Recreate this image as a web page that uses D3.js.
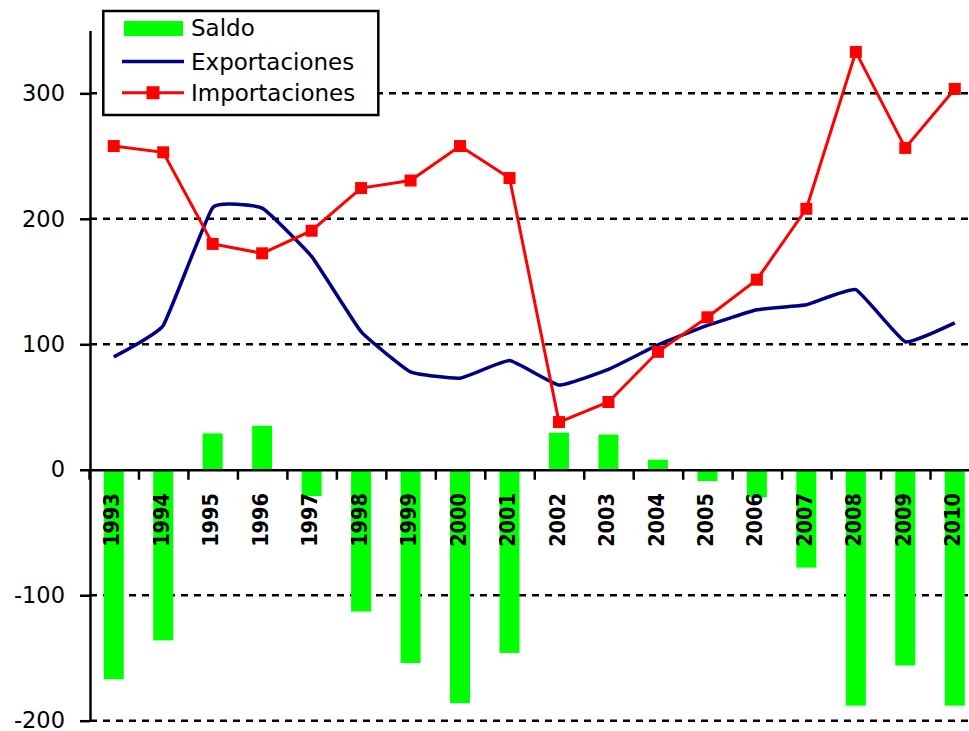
<!DOCTYPE html>
<html>
<head>
<meta charset="utf-8">
<script src="https://cdn.jsdelivr.net/npm/d3@7"></script>
<style>
  body { margin: 0; background: #fff; }
  svg { display: block; }
  text { font-family: "DejaVu Sans", Verdana, sans-serif; fill: #000; }
</style>
</head>
<body>
<svg id="chart" width="969" height="731"></svg>
<script>
// Data
const years = ["1993","1994","1995","1996","1997","1998","1999","2000","2001",
               "2002","2003","2004","2005","2006","2007","2008","2009","2010"];
const saldo = [-167, -136, 29, 35, -21, -113, -154, -186, -146,
               29.5, 28, 8, -9, -22, -78, -188, -156, -188];
const exportaciones = [90, 115, 209, 208.5, 170, 110, 78, 73, 87,
                       67.5, 80, 99.5, 115, 127.5, 131.5, 143.5, 102, 117];
const importaciones = [258, 253, 180, 172.5, 190.5, 224.5, 230.5, 258, 232.5,
                       38, 54, 94, 121.5, 151.5, 208, 333, 256.5, 303.5];
const yTicks = [-200, -100, 0, 100, 200, 300];
const legendItems = ["Saldo", "Exportaciones", "Importaciones"];

const COLORS = {
    saldo: "#00ff00",
    exp: "#000080",
    imp: "#ff0000"
};

const W = 969, H = 731;
const svg = d3.select("#chart");

// plot runs past the right edge of the window, like the reference
const x = d3.scaleBand().domain(years).range([89, 979.5]).padding(0);
const xb = d3.scaleLinear().domain([0, years.length]).range([89, 979.5]);
const y = d3.scaleLinear().domain([-200, 350]).range([720.7, 30.6]);

// grid lines
svg.append("g").selectAll("line")
    .data(yTicks.filter(t => t !== 0))
    .enter().append("line")
    .attr("x1", 90).attr("x2", W)
    .attr("y1", d => y(d)).attr("y2", d => y(d))
    .attr("stroke", "#000").attr("stroke-width", 2.5)
    .attr("stroke-dasharray", "7,6");

// bars
const barW = 20;
svg.append("g").selectAll("rect")
    .data(years)
    .enter().append("rect")
    .attr("x", (d, i) => x(d) + (x.bandwidth() - barW) / 2)
    .attr("width", barW)
    .attr("y", (d, i) => y(Math.max(0, saldo[i])))
    .attr("height", (d, i) => Math.abs(y(saldo[i]) - y(0)))
    .attr("fill", COLORS.saldo);

// x axis: line at zero with ticks at category boundaries
const xAxis = svg.append("g")
    .attr("transform", "translate(0," + y(0) + ")")
    .call(d3.axisBottom(xb).tickValues(d3.range(0, years.length + 1))
        .tickFormat("").tickSize(10).tickSizeOuter(0));
xAxis.select(".domain").attr("stroke-width", 2.5);
xAxis.selectAll(".tick line").attr("stroke-width", 2.5);

// year labels, rotated
svg.append("g").selectAll("text")
    .data(years)
    .enter().append("text")
    .attr("transform", d => "translate(" + (x(d) + x.bandwidth() / 2) + ",493) rotate(-90)")
    .attr("text-anchor", "end")
    .attr("dy", "0.26em")
    .style("font-family", "'DejaVu Sans Condensed', 'DejaVu Sans', sans-serif")
    .style("font-stretch", "condensed")
    .style("font-weight", "bold")
    .style("font-size", "21.5px")
    .text(d => d);

// y axis
const yAxis = svg.append("g")
    .attr("transform", "translate(90,0)")
    .call(d3.axisLeft(y).tickValues(yTicks).tickFormat(d => String(d))
        .tickSize(10).tickSizeOuter(0).tickPadding(15));
yAxis.select(".domain").attr("stroke-width", 2.5);
yAxis.selectAll(".tick line").attr("stroke-width", 2.5);
yAxis.selectAll(".tick text")
    .style("font-family", "'DejaVu Sans', sans-serif")
    .style("font-size", "22.5px")
    .attr("fill", "#000");

// exportaciones, smoothed
const cx = (d, i) => x(years[i]) + x.bandwidth() / 2;
svg.append("path")
    .datum(exportaciones)
    .attr("fill", "none")
    .attr("stroke", COLORS.exp)
    .attr("stroke-width", 3.5)
    .attr("d", d3.line().x(cx).y(d => y(d)).curve(d3.curveCardinal.tension(0.65)));

// importaciones with square markers
svg.append("path")
    .datum(importaciones)
    .attr("fill", "none")
    .attr("stroke", COLORS.imp)
    .attr("stroke-width", 3)
    .attr("d", d3.line().x(cx).y(d => y(d)));

const mk = 12;
svg.append("g").selectAll("rect")
    .data(importaciones)
    .enter().append("rect")
    .attr("x", (d, i) => cx(d, i) - mk / 2)
    .attr("y", d => y(d) - mk / 2)
    .attr("width", mk).attr("height", mk)
    .attr("fill", COLORS.imp);

// legend
const lg = svg.append("g");
lg.append("rect")
    .attr("x", 103.3).attr("y", 11)
    .attr("width", 275).attr("height", 104)
    .attr("fill", "#fff").attr("stroke", "#000").attr("stroke-width", 2.5);
lg.append("rect")
    .attr("x", 124).attr("y", 21).attr("width", 59).attr("height", 15)
    .attr("fill", COLORS.saldo);
lg.append("line")
    .attr("x1", 122).attr("x2", 184).attr("y1", 61.5).attr("y2", 61.5)
    .attr("stroke", COLORS.exp).attr("stroke-width", 3.5);
lg.append("line")
    .attr("x1", 122).attr("x2", 184).attr("y1", 92.7).attr("y2", 92.7)
    .attr("stroke", COLORS.imp).attr("stroke-width", 3);
lg.append("rect")
    .attr("x", 153 - 6.5).attr("y", 92.7 - 6.5).attr("width", 13).attr("height", 13)
    .attr("fill", COLORS.imp);
lg.selectAll("text.lbl")
    .data(legendItems)
    .enter().append("text")
    .attr("class", "lbl")
    .attr("x", 191)
    .attr("y", (d, i) => [35.5, 69.5, 101][i])
    .style("font-size", "23px")
    .text(d => d);
</script>
</body>
</html>
